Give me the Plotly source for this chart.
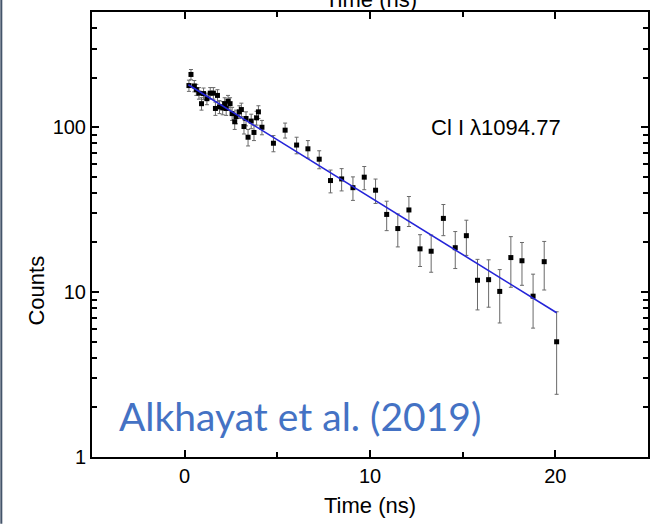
import plotly.graph_objects as go

# Measured data (Time in ns, Counts, error)
time_ns = [0.23, 0.34, 0.52, 0.63, 0.77, 0.91, 1.02, 1.20, 1.38, 1.55,
           1.66, 1.77, 1.88, 2.05, 2.16, 2.24, 2.34, 2.45, 2.56, 2.70,
           2.77, 2.95, 3.06, 3.20, 3.31, 3.42, 3.59, 3.74, 3.88, 3.98,
           4.17, 4.79, 5.42, 6.04, 6.65, 7.26, 7.87, 8.47, 9.08, 9.69,
           10.3, 10.9, 11.5, 12.1, 12.7, 13.3, 13.96, 14.6, 15.2, 15.8,
           16.4, 17.0, 17.6, 18.2, 18.8, 19.4, 20.07]
counts = [179, 209, 178, 169, 161, 139, 160, 149, 161, 161,
          130, 156, 133, 131, 139, 130, 144, 139, 121, 108,
          116, 124, 128, 101, 113, 87, 109, 93, 114, 124,
          100, 80, 96, 78, 74, 64, 47.5, 48.6, 43, 49.8,
          41.5, 29.6, 24.3, 31.5, 18.3, 17.7, 28, 18.6, 22, 11.8,
          11.9, 10.1, 16.2, 15.5, 9.45, 15.3, 5.0]
errors = [14, 15, 14, 13, 13, 12, 13, 12, 13, 13,
          12, 13, 12, 12, 12, 12, 12, 12, 11, 11,
          11, 11, 12, 10, 11, 10, 11, 10, 11, 11,
          10, 9, 10, 9, 9, 8, 7.5, 7.5, 7, 8,
          7, 6, 5.5, 6.5, 4, 4.5, 6, 4.7, 5.3, 4,
          3.8, 3.6, 5.5, 4.5, 3.4, 5, 2.6]

# Exponential fit (straight line on log axis), endpoints
fit_time = [0.2, 20.07]
fit_counts = [181, 7.5]

x_ticks = [0, 10, 20]
y_ticks = [1, 10, 100]

label_font = dict(family="Liberation Sans, Arial, sans-serif", size=20, color="black")

fig = go.Figure()
fig.add_trace(go.Scatter(
    x=time_ns, y=counts, mode="markers",
    marker=dict(symbol="square", size=5, color="black"),
    error_y=dict(type="data", array=errors, visible=True,
                 color="#6a6a6a", thickness=1, width=2),
    showlegend=False))
fig.add_trace(go.Scatter(
    x=fit_time, y=fit_counts, mode="lines",
    line=dict(color="#2424d8", width=1.6), showlegend=False))

fig.update_layout(
    width=660, height=524,
    margin=dict(l=92, r=10, t=11, b=64),
    paper_bgcolor="white", plot_bgcolor="white",
    font=label_font,
    xaxis=dict(range=[-5, 25], tickvals=x_ticks, ticks="inside", ticklen=7,
               tickwidth=1.5, tickcolor="black", showline=True, linewidth=2,
               linecolor="black", mirror="ticks", showgrid=False, zeroline=False,
               tickfont=dict(size=20),
               minor=dict(dtick=5, ticks="inside", ticklen=5, tickwidth=1.5,
                          tickcolor="black", showgrid=False),
               title=dict(text="Time (ns)", font=dict(size=22), standoff=12)),
    yaxis=dict(type="log", range=[0, 2.699], tickvals=y_ticks, ticks="inside",
               ticklen=7, tickwidth=1.5, tickcolor="black", showline=True,
               linewidth=2, linecolor="black", mirror="ticks", showgrid=False,
               zeroline=False, tickfont=dict(size=20),
               minor=dict(dtick="D1", ticks="inside", ticklen=5, tickwidth=1.5,
                          tickcolor="black", showgrid=False)),
)

# y axis title, placed low as in the original
fig.add_annotation(x=-0.1015, y=0.373, xref="paper", yref="paper",
                   text="Counts", showarrow=False, textangle=-90,
                   xanchor="center", yanchor="middle",
                   font=dict(size=22, color="black"))
fig.add_annotation(x=16.8, y=2.0, xref="x", yref="y", text="Cl I λ1094.77",
                   showarrow=False, font=dict(size=22, color="black"))
fig.add_annotation(x=0.3746, y=0.0354, xref="paper", yref="paper",
                   text="Alkhayat et al. (2019)", showarrow=False,
                   font=dict(family="Lato, Open Sans, sans-serif", size=39,
                             color="#4472C4"))
# top axis title (cut off by the page edge)
fig.add_annotation(x=0.502, y=0.9953, xref="paper", yref="paper",
                   text="Time (ns)", showarrow=False, yanchor="bottom",
                   font=dict(size=22, color="black"))
# slide border on the left edge
fig.add_shape(type="rect", xref="paper", yref="paper",
              x0=-0.1649, x1=-0.1613, y0=-0.15, y1=1.03,
              fillcolor="#44546a", line=dict(width=0), layer="above")

fig.write_html("out.html")
